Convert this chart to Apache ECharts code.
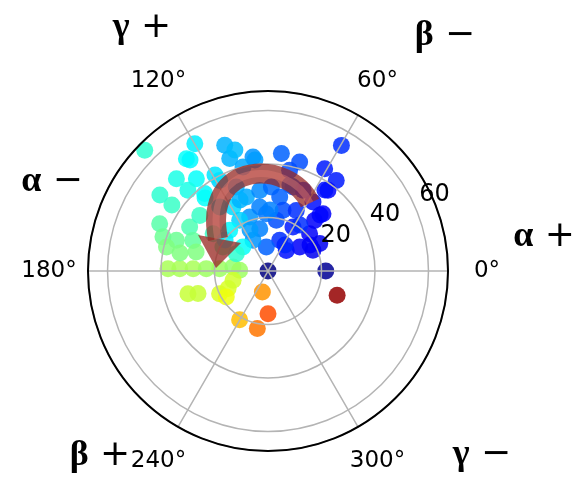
<!DOCTYPE html>
<html>
<head>
<meta charset="utf-8">
<script src="https://cdn.jsdelivr.net/npm/echarts@6/dist/echarts.min.js"></script>
<style>
  html, body { margin: 0; padding: 0; background: #fff; }
  #chart { width: 580px; height: 477px; }
</style>
</head>
<body>
<div id="chart"></div>
<script>
// one entry per dot: radius, angle (deg), colour value on the jet scale (0..1)
const radius = [
  64.5, 54.4, 0, 21.6, 27.4, 8.1, 16, 21.1, 21.9, 54.9,
  51.9, 49.7, 44.4, 43, 40, 44.2, 42.4, 38.5, 43.7, 42.4,
  37.6, 30.8, 29.7, 25.7, 20.9, 21.9, 14.9, 10.3, 12.3, 18.9,
  18.5, 19.2, 21.4, 16.1, 21.3, 9, 12.8, 48.6, 43.7, 37.4,
  42.5, 44.2, 41.3, 36.1, 33.6, 32.9, 30.3, 24.8, 39, 37.4,
  33, 28, 23.1, 18.1, 13.2, 10.6, 31.1, 27.5, 20, 16.3,
  13.5, 18.4, 38.4, 33.6, 30, 27.3, 21.7, 20.9, 28.8, 30.3,
  31.4, 28, 32.8, 23.4, 25, 32.9, 24.1, 13, 19.1, 13.5,
  33.6, 27.8, 43.6, 49.4, 36, 50.7, 41, 46.9, 41.8, 28.5,
  22.8, 33.2, 20.9, 28.6, 18.5, 11.6, 37, 16.7, 19.8
]
const angle = [
  135.6, 59.7, 0, 0, 340.6, 254.9, 270, 239.8, 259.5, 119.9,
  126, 109, 108.8, 97.5, 103.5, 83.5, 73.8, 77.9, 61, 53,
  53.4, 56.9, 46.2, 47.4, 41.9, 27.9, 37.2, 48.4, 69.2, 60.4,
  24.7, 80.7, 91.7, 101, 108.8, 94, 116, 134.8, 127.8, 129.3,
  134.8, 156.4, 162, 161.5, 150.7, 140.8, 157.8, 145.8, 166.7, 178.7,
  178.5, 178.2, 177.8, 177.2, 173.5, 178.7, 195.8, 197.9, 205.1, 203.8,
  194.9, 212, 118.1, 110.7, 127, 118.7, 119.2, 133.3, 106.3, 95.9,
  87.7, 81, 73.4, 76.1, 65, 66.5, 97.4, 136.2, 152, 151.3,
  168.4, 165.2, 145.5, 144.9, 130.8, 125.1, 118.9, 105.3, 96.7, 111.5,
  88.1, 75.7, 55.2, 47.1, 31.8, 56.8, 54.9, 113.7, 144.2
]
const colorValue = [
  0.42, 0.17, 0, 0.02, 0.98, 0.73, 0.8, 0.69, 0.76, 0.36,
  0.38, 0.3, 0.3, 0.27, 0.29, 0.22, 0.2, 0.2, 0.15, 0.15,
  0.13, 0.14, 0.12, 0.12, 0.12, 0.11, 0.12, 0.14, 0.17, 0.15,
  0.11, 0.2, 0.24, 0.25, 0.27, 0.22, 0.27, 0.4, 0.38, 0.37,
  0.4, 0.46, 0.48, 0.48, 0.45, 0.43, 0.47, 0.43, 0.5, 0.54,
  0.54, 0.54, 0.53, 0.53, 0.52, 0.53, 0.57, 0.57, 0.59, 0.59,
  0.58, 0.61, 0.33, 0.3, 0.36, 0.34, 0.33, 0.37, 0.29, 0.26,
  0.23, 0.22, 0.2, 0.2, 0.17, 0.17, 0.25, 0.38, 0.44, 0.42,
  0.5, 0.5, 0.43, 0.42, 0.38, 0.37, 0.35, 0.31, 0.28, 0.3,
  0.25, 0.22, 0.17, 0.13, 0.12, 0.16, 0.14, 0.28, 0.36
]
const angleTicks = [0, 60, 120, 180, 240, 300]
const radiusTicks = [20, 40, 60]
const radiusMax = 67.3

const jet = ['#000080', '#0000ff', '#0080ff', '#00ffff', '#80ff80', '#ffff00', '#ff8000', '#ff0000', '#800000']

const chart = echarts.init(document.getElementById('chart'))

chart.setOption({
  animation: false,
  polar: {
    center: [268, 271],
    radius: 180
  },
  angleAxis: {
    type: 'value',
    min: 0,
    max: 360,
    interval: 60,
    startAngle: 0,
    clockwise: false,
    z: 5,
    axisLine: { lineStyle: { color: '#000', width: 2 } },
    axisTick: { show: false },
    axisLabel: { show: false },
    splitLine: { lineStyle: { color: '#b4b4b4', width: 1.5 } }
  },
  radiusAxis: {
    type: 'value',
    min: 0,
    max: radiusMax,
    interval: 20,
    z: 5,
    axisLine: { show: false },
    axisTick: { show: false },
    axisLabel: { show: false },
    splitLine: { lineStyle: { color: '#b4b4b4', width: 1.5 } }
  },
  visualMap: {
    show: false,
    dimension: 2,
    min: 0,
    max: 1,
    inRange: { color: jet }
  },
  series: [{
    type: 'scatter',
    coordinateSystem: 'polar',
    symbolSize: 17,
    z: 2,
    itemStyle: { opacity: 0.85 },
    data: radius.map((r, i) => [r, angle[i], colorValue[i]])
  }]
})

const c = chart.convertToPixel({ seriesIndex: 0 }, [0, 0])
const cx = c[0]
const cy = c[1]
const graphics = []

// angle labels centred on a circle just outside the frame (matplotlib style)
angleTicks.forEach(a => {
  const e = chart.convertToPixel({ seriesIndex: 0 }, [radiusMax, a])
  const k = 219 / 180
  graphics.push({
    type: 'text', z: 50, x: cx + (e[0] - cx) * k, y: cy + (e[1] - cy) * k,
    style: { text: a + '°', fontSize: 23, fontFamily: 'DejaVu Sans', fill: '#000', align: 'center', verticalAlign: 'middle' }
  })
})

// radial tick labels sit at 22.5deg
radiusTicks.forEach(t => {
  const p = chart.convertToPixel({ seriesIndex: 0 }, [t, 22.5])
  graphics.push({
    type: 'text', z: 50, x: p[0] + 3, y: p[1] - 3,
    style: { text: String(t), fontSize: 24, fontFamily: 'DejaVu Sans', fill: '#000', align: 'left', verticalAlign: 'bottom' }
  })
})

// greek direction labels
const greek = [
  ['γ', '+', 142, 28], ['β', '−', 445, 36], ['α', '−', 52, 182],
  ['α', '+', 544, 237], ['β', '+', 100, 456], ['γ', '−', 482, 455]
]
greek.forEach(g => {
  graphics.push({
    type: 'text', z: 50, x: g[2], y: g[3],
    style: {
      text: '{g|' + g[0] + '}{s| ' + g[1] + '}',
      align: 'center', verticalAlign: 'middle',
      rich: {
        g: { fontSize: 36, fontWeight: 'bold', fontFamily: 'Liberation Serif', fill: '#000' },
        s: { fontSize: 36, fontFamily: 'DejaVu Sans', fill: '#000' }
      }
    }
  })
})

// curved arrow drawn over the dots
const curve = { x1: cx + 42, y1: cy - 68, cpx1: cx + 22, cpy1: cy - 112, cpx2: cx - 66, cpy2: cy - 112, x2: cx - 50, y2: cy - 32 }
graphics.push({
  type: 'bezierCurve', z: 40, shape: curve,
  style: { stroke: 'rgba(150,40,35,0.75)', lineWidth: 20, fill: null }
})
graphics.push({
  type: 'bezierCurve', z: 41, shape: curve,
  style: { stroke: 'rgba(225,120,110,0.45)', lineWidth: 7, fill: null }
})
graphics.push({
  type: 'polygon', z: 40,
  shape: { points: [[cx - 70, cy - 36], [cx - 27, cy - 28], [cx - 52, cy - 3]] },
  style: { fill: 'rgba(155,45,40,0.78)' }
})

chart.setOption({ graphic: graphics })
</script>
</body>
</html>
